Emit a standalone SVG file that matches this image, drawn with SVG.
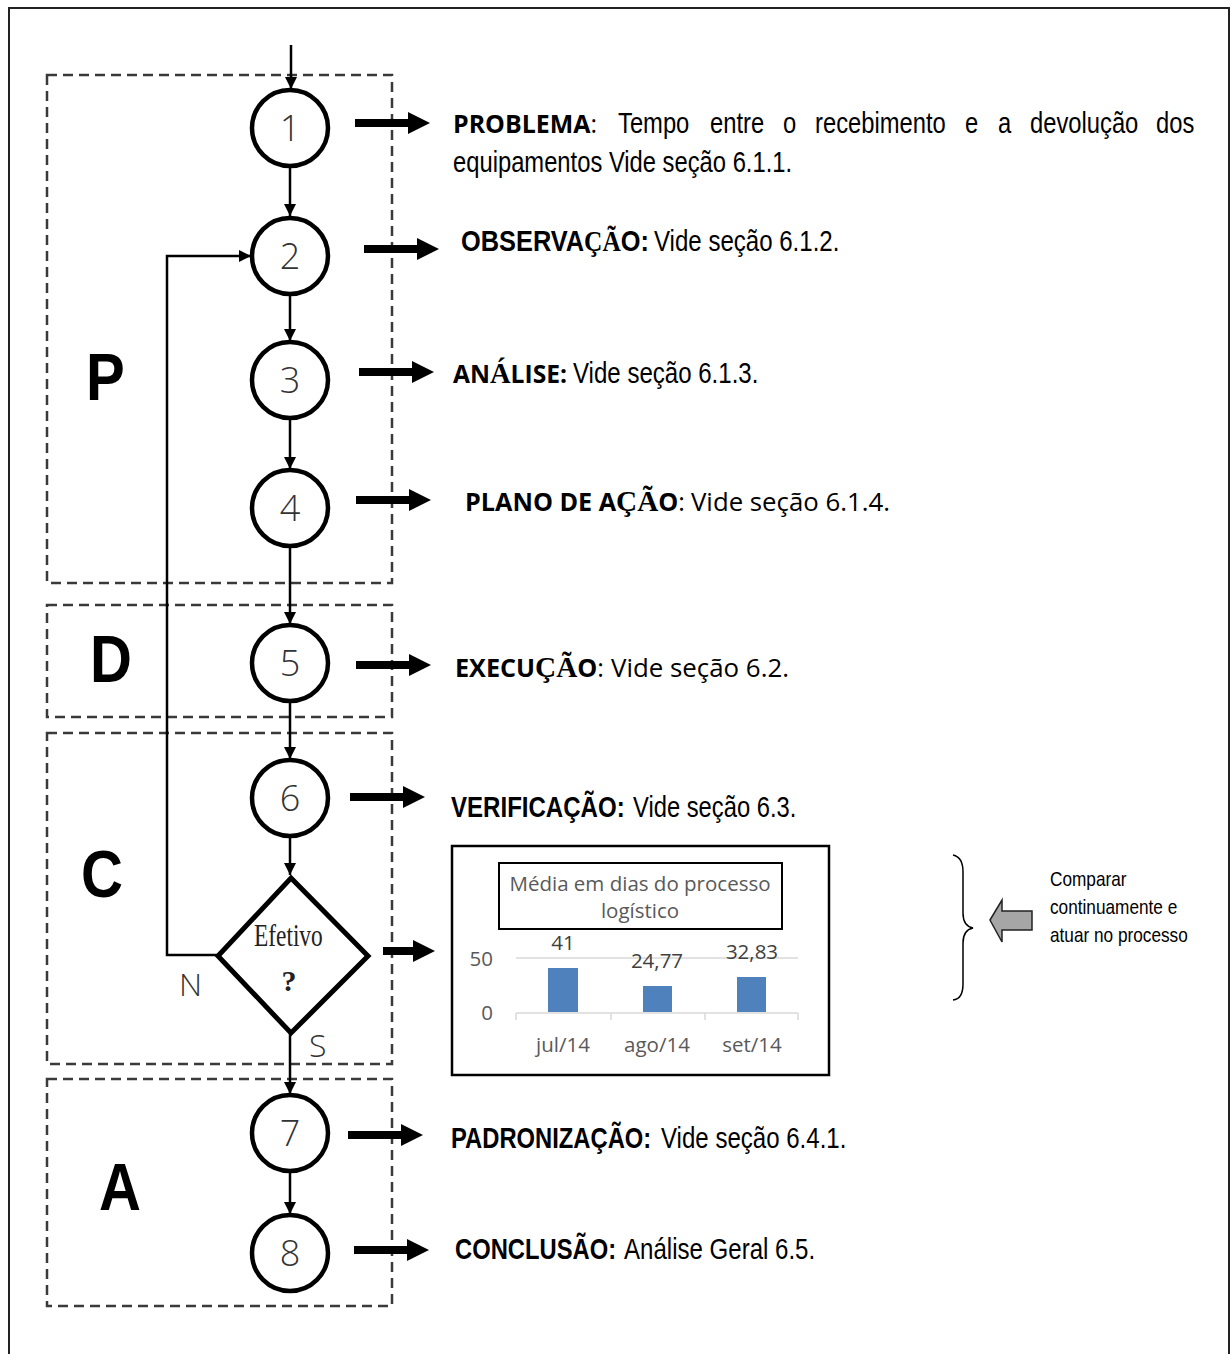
<svg xmlns="http://www.w3.org/2000/svg" width="1231" height="1354" viewBox="0 0 1231 1354">
<style>
.frame{fill:none;stroke:#222;stroke-width:2}
.dash{fill:none;stroke:#3a3a3a;stroke-width:2.5;stroke-dasharray:10 6}
.circ{fill:#fff;stroke:#000;stroke-width:4.5}
.num{font-family:"Open Sans","Liberation Sans",sans-serif;font-weight:300;font-size:36px;fill:#333;text-anchor:middle}
.conn{fill:none;stroke:#000;stroke-width:2.5}
.big{font-family:"Liberation Sans",Arial,sans-serif;font-weight:bold;font-size:66px;fill:#000}
.nb{font-family:"Liberation Sans",Arial,sans-serif;font-size:29px;fill:#000}
.nbb{font-family:"Liberation Sans",Arial,sans-serif;font-size:29px;font-weight:bold;fill:#000}
.cal{font-family:"Open Sans","Liberation Sans",sans-serif;font-size:25px;fill:#000}
.calb{font-family:"Open Sans","Liberation Sans",sans-serif;font-size:25px;font-weight:bold;fill:#000}
.ser{font-family:"Liberation Serif","Times New Roman",serif;font-weight:bold;font-size:29px}
.lbl{font-family:"Open Sans","Liberation Sans",sans-serif;font-weight:300;font-size:32px;fill:#333}
.ch{font-family:"Open Sans","Liberation Sans",sans-serif;font-size:20.5px;fill:#595959}
.chd{font-family:"Open Sans","Liberation Sans",sans-serif;font-size:20.5px;fill:#404040;text-anchor:middle}
.bar{fill:#4f81bd}
.side{font-family:"Liberation Sans",Arial,sans-serif;font-size:21px;fill:#000}
</style>
<defs>
<marker id="ah" viewBox="0 0 12 12" refX="12" refY="6" markerWidth="12" markerHeight="12" markerUnits="userSpaceOnUse" orient="auto">
<path d="M0,0 L12,6 L0,12 Z" fill="#000"/>
</marker>
<path id="thick" d="M0,-4 L53,-4 L53,-11 L75,0 L53,11 L53,4 L0,4 Z"/>
</defs>
<rect x="0" y="0" width="1231" height="1354" fill="#fff"/>
<rect class="frame" x="9" y="8" width="1220" height="1370"/>

<g id="phases">
<rect class="dash" x="47" y="75" width="345" height="508"/>
<rect class="dash" x="47" y="605" width="345" height="112"/>
<rect class="dash" x="47" y="733" width="345" height="331"/>
<rect class="dash" x="47" y="1079" width="345" height="227"/>
<text class="big" transform="translate(86,400) scale(0.88,1)">P</text>
<text class="big" transform="translate(90,682) scale(0.88,1)">D</text>
<text class="big" transform="translate(81,897) scale(0.88,1)">C</text>
<text class="big" transform="translate(99,1210) scale(0.88,1)">A</text>
</g>

<g id="connectors">
<line class="conn" x1="291" y1="45" x2="291" y2="89" marker-end="url(#ah)"/>
<line class="conn" x1="290" y1="167" x2="290" y2="216" marker-end="url(#ah)"/>
<line class="conn" x1="290" y1="295" x2="290" y2="341" marker-end="url(#ah)"/>
<line class="conn" x1="290" y1="418" x2="290" y2="469" marker-end="url(#ah)"/>
<line class="conn" x1="290" y1="546" x2="290" y2="624" marker-end="url(#ah)"/>
<line class="conn" x1="290" y1="701" x2="290" y2="759" marker-end="url(#ah)"/>
<line class="conn" x1="290" y1="836" x2="290" y2="875" marker-end="url(#ah)"/>
<line class="conn" x1="290" y1="1033" x2="290" y2="1094" marker-end="url(#ah)"/>
<line class="conn" x1="290" y1="1171" x2="290" y2="1214" marker-end="url(#ah)"/>
<polyline class="conn" points="218,955 167,955 167,256 251,256" marker-end="url(#ah)"/>
<use href="#thick" x="355" y="123"/>
<use href="#thick" x="364" y="249"/>
<use href="#thick" x="359" y="372"/>
<use href="#thick" x="356" y="500"/>
<use href="#thick" x="356" y="665"/>
<use href="#thick" x="350" y="797"/>
<path d="M383,947 L413,947 L413,940 L435,951 L413,962 L413,955 L383,955 Z"/>
<use href="#thick" x="348" y="1135"/>
<use href="#thick" x="354" y="1250"/>
</g>

<g id="node1"><circle class="circ" cx="290" cy="128" r="38"/><text class="num" x="290" y="141">1</text></g>
<g id="node2"><circle class="circ" cx="290" cy="256" r="38"/><text class="num" x="290" y="269">2</text></g>
<g id="node3"><circle class="circ" cx="290" cy="380" r="38"/><text class="num" x="290" y="393">3</text></g>
<g id="node4"><circle class="circ" cx="290" cy="508" r="38"/><text class="num" x="290" y="521">4</text></g>
<g id="node5"><circle class="circ" cx="290" cy="663" r="38"/><text class="num" x="290" y="676">5</text></g>
<g id="node6"><circle class="circ" cx="290" cy="798" r="38"/><text class="num" x="290" y="811">6</text></g>
<g id="decision">
<polygon points="291,878 368,956 291,1033 218,956" fill="#fff" stroke="#000" stroke-width="5" stroke-linejoin="miter"/>
<text transform="translate(254,946) scale(0.73,1)" style="font-family:'Liberation Serif',serif;font-size:32px;fill:#222">Efetivo</text>
<text x="289" y="991" text-anchor="middle" style="font-family:'Liberation Serif',serif;font-weight:bold;font-size:30px;fill:#222">?</text>
<text class="lbl" x="179" y="996">N</text>
<text class="lbl" x="309" y="1057">S</text>
</g>
<g id="node7"><circle class="circ" cx="290" cy="1133" r="38"/><text class="num" x="290" y="1146">7</text></g>
<g id="node8"><circle class="circ" cx="290" cy="1253" r="38"/><text class="num" x="290" y="1266">8</text></g>

<g id="desc1">
<text class="calb" x="453" y="133" textLength="144" lengthAdjust="spacingAndGlyphs">PROBLEMA<tspan font-weight="normal">:</tspan></text>
<text class="nb" transform="translate(618,133) scale(0.82,1)">Tempo</text>
<text class="nb" transform="translate(710,133) scale(0.82,1)">entre</text>
<text class="nb" transform="translate(783,133) scale(0.82,1)">o</text>
<text class="nb" transform="translate(815,133) scale(0.82,1)">recebimento</text>
<text class="nb" transform="translate(965,133) scale(0.82,1)">e</text>
<text class="nb" transform="translate(998,133) scale(0.82,1)">a</text>
<text class="nb" transform="translate(1030,133) scale(0.82,1)">devolução</text>
<text class="nb" transform="translate(1156,133) scale(0.82,1)">dos</text>
<text class="nb" transform="translate(453,172) scale(0.82,1)">equipamentos Vide seção 6.1.1.</text>
</g>
<g id="desc2">
<text class="nbb" transform="translate(461,251) scale(0.875,1)">OBSERVA<tspan class="ser">ÇÃ</tspan>O:</text>
<text class="nb" transform="translate(654,251) scale(0.83,1)">Vide seção 6.1.2.</text>
</g>
<g id="desc3">
<text class="calb" x="453" y="383" textLength="114" lengthAdjust="spacingAndGlyphs">AN<tspan class="ser">Á</tspan>LISE:</text>
<text class="nb" transform="translate(573,383) scale(0.83,1)">Vide seção 6.1.3.</text>
</g>
<g id="desc4">
<text class="calb" x="465" y="511" textLength="220" lengthAdjust="spacingAndGlyphs">PLANO DE A<tspan class="ser">ÇÃ</tspan>O<tspan font-weight="normal">:</tspan></text>
<text class="cal" x="691" y="511" textLength="199" lengthAdjust="spacingAndGlyphs">Vide seção 6.1.4.</text>
</g>
<g id="desc5">
<text class="calb" x="455" y="677" textLength="149" lengthAdjust="spacingAndGlyphs">EXECU<tspan class="ser">ÇÃ</tspan>O<tspan font-weight="normal">:</tspan></text>
<text class="cal" x="611" y="677" textLength="178" lengthAdjust="spacingAndGlyphs">Vide seção 6.2.</text>
</g>
<g id="desc6">
<text class="nbb" transform="translate(451,817) scale(0.83,1)">VERIFICAÇÃO:</text>
<text class="nb" transform="translate(633,817) scale(0.82,1)">Vide seção 6.3.</text>
</g>

<g id="chart">
<rect x="452" y="846" width="377" height="229" fill="#fff" stroke="#000" stroke-width="2.5"/>
<rect x="499" y="863" width="283" height="66" fill="#fff" stroke="#000" stroke-width="2"/>
<text class="ch" x="640" y="891" text-anchor="middle">Média em dias do processo</text>
<text class="ch" x="640" y="918" text-anchor="middle">logístico</text>
<line x1="516" y1="958" x2="798" y2="958" stroke="#d9d9d9" stroke-width="1.5"/>
<path d="M516,1013 H798 M516,1013 V1020 M611,1013 V1020 M705,1013 V1020 M798,1013 V1020" fill="none" stroke="#d9d9d9" stroke-width="1.5"/>
<text class="ch" x="493" y="966" text-anchor="end">50</text>
<text class="ch" x="493" y="1020" text-anchor="end">0</text>
<rect class="bar" x="548" y="968" width="30" height="44"/>
<rect class="bar" x="643" y="986" width="29" height="26"/>
<rect class="bar" x="737" y="977" width="29" height="35"/>
<text class="chd" x="563" y="950">41</text>
<text class="chd" x="657" y="968">24,77</text>
<text class="chd" x="752" y="959">32,83</text>
<text class="ch" x="563" y="1052" text-anchor="middle">jul/14</text>
<text class="ch" x="657" y="1052" text-anchor="middle">ago/14</text>
<text class="ch" x="752" y="1052" text-anchor="middle">set/14</text>
</g>

<g id="feedback">
<path d="M953,855 Q963,857 963,872 L963,913 Q963,926 973,928 Q963,930 963,943 L963,984 Q963,999 953,1000" fill="none" stroke="#000" stroke-width="1.5"/>
<polygon points="990,920 1002,900 1002,911 1032,911 1032,930 1002,930 1002,942" fill="#a6a6a6" stroke="#222" stroke-width="1.5"/>
<text class="side" transform="translate(1050,886) scale(0.82,1)">Comparar</text>
<text class="side" transform="translate(1050,914) scale(0.82,1)">continuamente e</text>
<text class="side" transform="translate(1050,942) scale(0.82,1)">atuar no processo</text>
</g>

<g id="desc7">
<text class="nbb" transform="translate(451,1148) scale(0.82,1)">PADRONIZAÇÃO:</text>
<text class="nb" transform="translate(661,1148) scale(0.83,1)">Vide seção 6.4.1.</text>
</g>
<g id="desc8">
<text class="nbb" transform="translate(455,1259) scale(0.82,1)">CONCLUSÃO:</text>
<text class="nb" transform="translate(624,1259) scale(0.83,1)">Análise Geral 6.5.</text>
</g>
</svg>
